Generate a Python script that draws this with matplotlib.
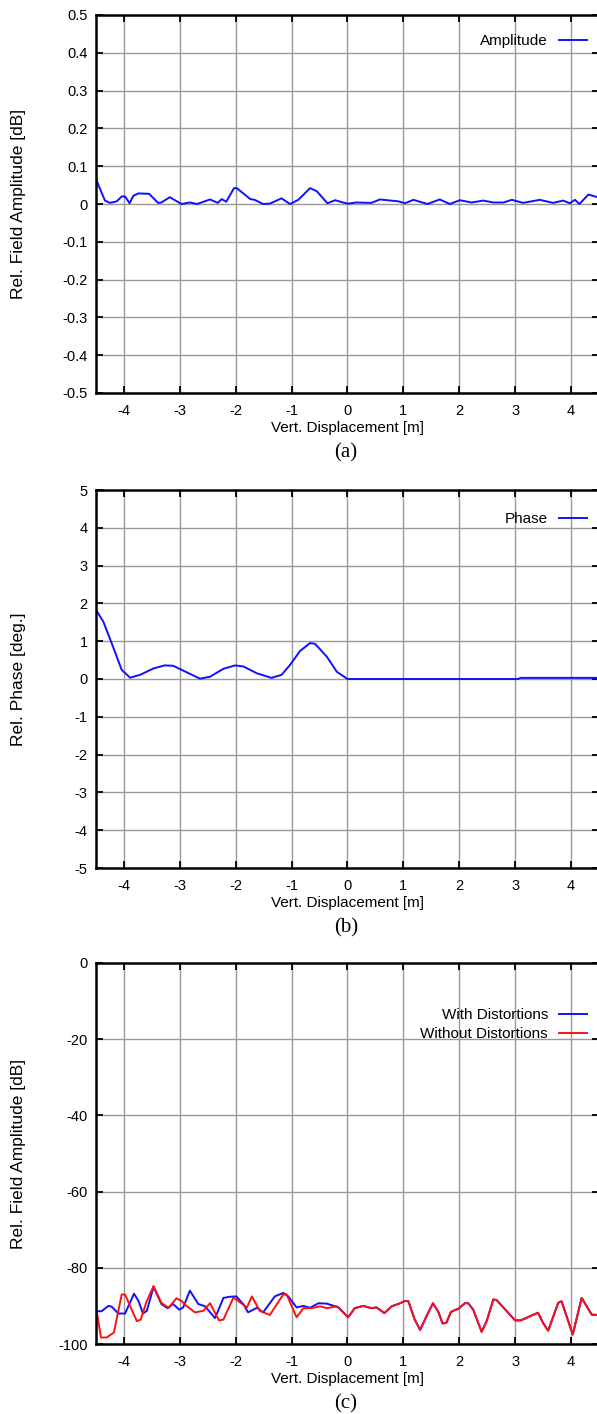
import matplotlib
matplotlib.use("Agg")
import matplotlib.pyplot as plt
import numpy as np

plt.rcParams['font.family'] = ['Liberation Sans', 'DejaVu Sans']

# ---- data ----
amp_x = [-4.5, -4.34, -4.25, -4.13, -4.04, -3.98, -3.90, -3.83, -3.74, -3.55, -3.39, -3.33, -3.18,
         -2.97, -2.82, -2.69, -2.46, -2.32, -2.25, -2.17, -2.03, -1.98, -1.74, -1.66, -1.51, -1.39,
         -1.18, -1.03, -0.88, -0.67, -0.55, -0.36, -0.22, -0.08, 0.01, 0.16, 0.43, 0.58, 0.91, 1.03,
         1.18, 1.43, 1.65, 1.83, 2.01, 2.22, 2.43, 2.61, 2.79, 2.94, 3.14, 3.44, 3.68, 3.86, 3.98,
         4.07, 4.15, 4.31, 4.5]
amp_y = [0.066, 0.009, 0.003, 0.007, 0.020, 0.020, 0.002, 0.022, 0.028, 0.027, 0.003, 0.004, 0.018,
         0.000, 0.004, 0.000, 0.012, 0.003, 0.013, 0.006, 0.042, 0.042, 0.013, 0.011, 0.000, 0.001,
         0.015, 0.000, 0.011, 0.042, 0.034, 0.002, 0.010, 0.004, 0.001, 0.004, 0.003, 0.012, 0.007, 0.002,
         0.011, 0.000, 0.012, 0.000, 0.010, 0.004, 0.009, 0.004, 0.004, 0.011, 0.003, 0.011, 0.003, 0.009, 0.002,
         0.011, 0.000, 0.025, 0.017]

ph_x = [-4.5, -4.37, -4.22, -4.04, -3.89, -3.71, -3.47, -3.27, -3.12, -2.88, -2.64, -2.46, -2.22,
        -2.01, -1.86, -1.62, -1.36, -1.18, -1.03, -0.85, -0.67, -0.58, -0.37, -0.19, 0.0, 3.05, 3.1, 4.5]
ph_y = [1.83, 1.52, 0.95, 0.24, 0.035, 0.11, 0.28, 0.36, 0.35, 0.18, 0.01, 0.06, 0.27,
        0.36, 0.33, 0.15, 0.03, 0.11, 0.37, 0.74, 0.95, 0.93, 0.59, 0.19, 0.0, 0.0, 0.03, 0.03]

with_x = [-4.5, -4.40, -4.28, -4.22, -4.10, -3.98, -3.82, -3.74, -3.66, -3.59, -3.47, -3.33, -3.22,
          -3.12, -3.01, -2.94, -2.82, -2.67, -2.55, -2.37, -2.22, -2.10, -1.99, -1.86, -1.78, -1.62,
          -1.51, -1.30, -1.15, -1.06, -0.91, -0.79, -0.67, -0.52, -0.37, -0.16, 0.01]
with_y = [-91.4, -91.4, -90.0, -90.2, -92.0, -92.0, -86.8, -88.7, -92.0, -91.3, -85.0, -89.5, -90.6,
          -89.5, -91.0, -90.4, -86.0, -89.5, -90.1, -93.2, -87.9, -87.6, -87.5, -89.6, -91.7, -90.5,
          -91.7, -87.5, -86.6, -87.5, -90.4, -90.0, -90.5, -89.3, -89.4, -90.4, -93.0]

without_x = [-4.5, -4.41, -4.31, -4.18, -4.04, -3.98, -3.77, -3.70, -3.60, -3.47, -3.33, -3.20, -3.06,
             -2.97, -2.88, -2.73, -2.58, -2.46, -2.30, -2.22, -2.04, -1.80, -1.71, -1.57, -1.39, -1.15,
             -1.09, -0.91, -0.79, -0.64, -0.49, -0.37, -0.19, 0.01]
without_y = [-90.4, -98.3, -98.3, -97.0, -87.0, -87.0, -94.0, -93.6, -89.0, -84.8, -89.2, -90.5, -88.0,
             -88.7, -90.0, -91.7, -91.3, -89.3, -93.8, -93.6, -87.8, -90.4, -87.5, -91.3, -92.4, -87.0,
             -87.0, -93.0, -90.6, -90.6, -90.1, -90.6, -90.1, -93.0]

both_x = [0.01, 0.13, 0.28, 0.43, 0.52, 0.66, 0.79, 0.91, 1.03, 1.09, 1.20, 1.30, 1.42, 1.53, 1.63,
          1.70, 1.77, 1.85, 1.92, 1.98, 2.10, 2.16, 2.25, 2.40, 2.49, 2.61, 2.67, 2.85, 3.00, 3.10,
          3.18, 3.28, 3.41, 3.50, 3.59, 3.77, 3.83, 4.03, 4.19, 4.37, 4.5]
both_y = [-93.0, -90.6, -90.0, -90.6, -90.4, -91.9, -90.1, -89.5, -88.7, -88.8, -93.5, -96.3, -92.5, -89.3, -91.7,
          -94.6, -94.4, -91.6, -91.1, -90.8, -89.3, -89.3, -91.0, -96.8, -94.0, -88.3, -88.5, -91.4, -93.8, -93.8,
          -93.3, -92.6, -91.8, -94.5, -96.5, -89.2, -88.8, -97.5, -87.9, -92.3, -92.4]

x_ticks = [-4, -3, -2, -1, 0, 1, 2, 3, 4]
amp_ticks = [0.5, 0.4, 0.3, 0.2, 0.1, 0, -0.1, -0.2, -0.3, -0.4, -0.5]
amp_labels = ["0.5", "0.4", "0.3", "0.2", "0.1", "0", "-0.1", "-0.2", "-0.3", "-0.4", "-0.5"]
ph_ticks = [5, 4, 3, 2, 1, 0, -1, -2, -3, -4, -5]
db_ticks = [0, -20, -40, -60, -80, -100]

BLUE = '#1010ff'
RED = '#ff1010'

fig = plt.figure(figsize=(5.97, 14.14), dpi=100)
W, H = 597.0, 1414.0
LEFT, RIGHT = 96, 599

def make_ax(top, bottom):
    return fig.add_axes([LEFT / W, 1 - bottom / H, (RIGHT - LEFT) / W, (bottom - top) / H])

def style(ax, top, bottom, yticks, ylabels, ylim, ylabel, caption, leg_top_px):
    ax.set_xlim(-4.5, 4.5)
    ax.set_ylim(*ylim)
    ax.set_xticks(x_ticks)
    ax.set_xticklabels([str(t) for t in x_ticks])
    ax.set_yticks(yticks)
    ax.set_yticklabels(ylabels)
    ax.grid(True, color='#9a9a9a', linewidth=1.0)
    ax.set_axisbelow(True)
    ax.tick_params(direction='in', length=5, width=1.3, labelsize=10.5, pad=6,
                   top=True, right=True, color='black')
    ax.tick_params(axis='x', pad=8)
    for s in ax.spines.values():
        s.set_linewidth(1.8)
    ax.set_xlabel("Vert. Displacement [m]", fontsize=11, labelpad=2)
    ax.set_ylabel(ylabel, fontsize=12.5)
    ax.yaxis.set_label_coords(-0.14, 0.5)
    hpx = bottom - top
    ax.text(0.497, -(453 - 393) / hpx, caption, transform=ax.transAxes, ha='center', va='center',
            fontsize=15, family='Liberation Serif')
    ax.legend(loc='upper right', frameon=False, markerfirst=False, fontsize=11,
              handlelength=1.85, handletextpad=0.7, borderaxespad=0.0, borderpad=0.0,
              labelspacing=0.35,
              bbox_to_anchor=((587 - LEFT) / (RIGHT - LEFT), 1 - (leg_top_px - top) / hpx))

# (a)
ax1 = make_ax(15, 393)
ax1.plot(amp_x, amp_y, color=BLUE, lw=1.4, label="Amplitude")
style(ax1, 15, 393, amp_ticks, amp_labels, (-0.5, 0.5), "Rel. Field Amplitude [dB]", "(a)", 34)

# (b)
ax2 = make_ax(490, 868)
ax2.plot(ph_x, ph_y, color=BLUE, lw=1.4, label="Phase")
style(ax2, 490, 868, ph_ticks, [str(t) for t in ph_ticks], (-5, 5), "Rel. Phase [deg.]", "(b)", 512)

# (c)
ax3 = make_ax(963, 1344)
ax3.plot(with_x + both_x, with_y + both_y, color=BLUE, lw=1.4, label="With Distortions")
ax3.plot(without_x + both_x, without_y + both_y, color=RED, lw=1.4, label="Without Distortions")
style(ax3, 963, 1344, db_ticks, [str(t) for t in db_ticks], (-100, 0), "Rel. Field Amplitude [dB]", "(c)", 1008)

fig.savefig("out.png", dpi=100)
